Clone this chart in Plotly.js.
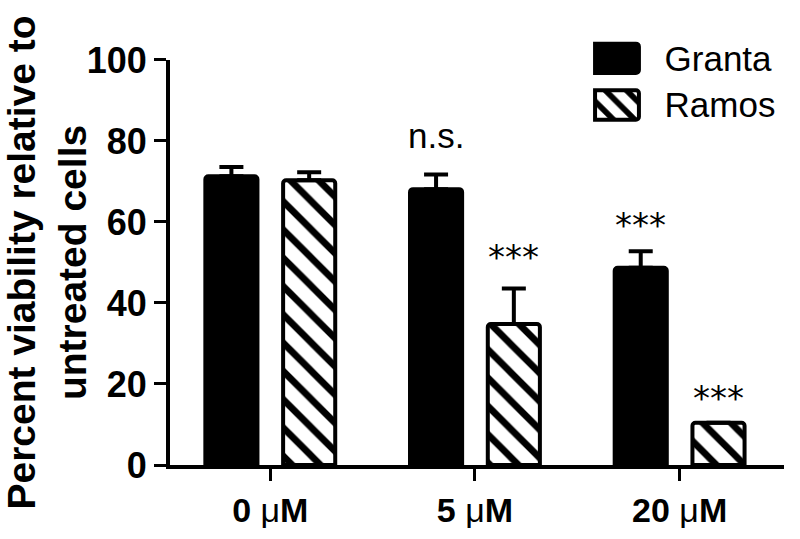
<!DOCTYPE html>
<html>
<head>
<meta charset="utf-8">
<script src="https://cdn.plot.ly/plotly-3.0.1.min.js"></script>
<style>html,body{margin:0;padding:0;background:#fff;}</style>
</head>
<body>
<div id="chart" style="width:800px;height:539px;"></div>
<script>
// ---- data ----
const categories = ["0 μM", "5 μM", "20 μM"];
const seriesNames = ["Granta", "Ramos"];
const grantaValues = [71.3, 68.1, 48.7];
const grantaErrors = [2.3, 3.6, 4.1];
const ramosValues = [70.3, 34.8, 10.4];
const ramosErrors = [2.0, 8.8, 0];
const grantaSig = ["", "n.s.", "***"];
const ramosSig = ["", "***", "***"];
const grantaSigY = [null, 81.3, 61.2];
const ramosSigY = [null, 53.4, 18.5];
const yTickVals = [0, 20, 40, 60, 80, 100];

// ---- styling ----
const FONT = "Liberation Sans, Arial, Helvetica, sans-serif";
const bargap = 0.24;
const bargroupgap = 0.33;
const groupOffset = (1 - bargap) / 4;

const tickText = categories.map(c => c.replace("μ", '<span style="font-weight:normal">μ</span>'));

const lineStyle = {color: "black", width: 4};
const grantaMarker = {color: "black", line: lineStyle, cornerradius: 3};
const ramosMarker = {
  color: "white", line: lineStyle, cornerradius: 3,
  pattern: {shape: "\\", fgcolor: "black", bgcolor: "white", size: 20, solidity: 0.34}
};
const errStyle = (arr) => ({
  type: "data", array: arr, symmetric: false,
  arrayminus: arr.map(() => 0),
  color: "black", thickness: 4, width: 12
});

const traces = [
  {
    type: "bar", name: seriesNames[0], x: categories, y: grantaValues,
    marker: grantaMarker,
    error_y: errStyle(grantaErrors), showlegend: false, hoverinfo: "none"
  },
  {
    type: "bar", name: seriesNames[1], x: categories, y: ramosValues,
    marker: ramosMarker,
    error_y: errStyle(ramosErrors), showlegend: false, hoverinfo: "none"
  },
  // custom legend swatches (one per series, same slot)
  {
    type: "bar", orientation: "h", xaxis: "x2", yaxis: "y2", offsetgroup: "legend",
    y: [seriesNames[0]], x: [1], width: 0.63,
    marker: grantaMarker, showlegend: false, hoverinfo: "none"
  },
  {
    type: "bar", orientation: "h", xaxis: "x2", yaxis: "y2", offsetgroup: "legend",
    y: [seriesNames[1]], x: [1], width: 0.63,
    marker: Object.assign({}, ramosMarker, {pattern: Object.assign({}, ramosMarker.pattern, {size: 15, solidity: 0.38})}),
    showlegend: false, hoverinfo: "none"
  }
];

const annotations = [];
categories.forEach((c, i) => {
  [[grantaSig, grantaSigY, -1], [ramosSig, ramosSigY, 1]].forEach(([sig, sy, side]) => {
    if (!sig[i]) return;
    const star = sig[i].startsWith("*");
    annotations.push({
      x: i + side * groupOffset, y: sy[i], xref: "x", yref: "y",
      text: sig[i], showarrow: false, yanchor: "middle",
      yshift: star ? -8 : 0,
      font: {family: star ? "DejaVu Sans, sans-serif" : FONT, size: star ? 34 : 35, color: "black"}
    });
  });
});

const layout = {
  width: 800, height: 539,
  margin: {l: 170, r: 16, t: 35, b: 74},
  paper_bgcolor: "white", plot_bgcolor: "white",
  barmode: "group", bargap: bargap, bargroupgap: bargroupgap,
  font: {family: FONT, color: "black"},
  showlegend: false,
  xaxis: {
    type: "category", range: [-0.49, 2.51],
    tickvals: categories, ticktext: tickText,
    showline: true, linecolor: "black", linewidth: 4,
    ticks: "outside", ticklen: 12, tickwidth: 3, tickcolor: "black",
    tickfont: {family: FONT, size: 34, weight: "bold", color: "black"},
    showgrid: false, zeroline: false, fixedrange: true
  },
  yaxis: {
    domain: [0, 0.942], range: [0, 100],
    tickvals: yTickVals,
    showline: true, linecolor: "black", linewidth: 4,
    ticks: "outside", ticklen: 12, tickwidth: 3, tickcolor: "black",
    tickfont: {family: FONT, size: 36, weight: "bold", color: "black"},
    showgrid: false, zeroline: false,
    title: {
      text: "Percent viability relative to<br>untreated cells",
      font: {family: FONT, size: 39, weight: "bold", color: "black"},
      standoff: 0
    }
  },
  xaxis2: {
    domain: [0.688, 0.768], range: [-0.06, 1.06], anchor: "y2",
    visible: false, fixedrange: true
  },
  yaxis2: {
    domain: [0.783, 1.0], range: [-0.5, 1.5], anchor: "x2",
    type: "category", categoryorder: "array", categoryarray: ["Ramos", "Granta"],
    side: "right", showline: false, ticks: "", showgrid: false, zeroline: false,
    ticklabelstandoff: 22,
    tickfont: {family: FONT, size: 35, color: "black"}
  },
  annotations: annotations
};

Plotly.newPlot("chart", traces, layout, {staticPlot: true, displayModeBar: false});
</script>
</body>
</html>
